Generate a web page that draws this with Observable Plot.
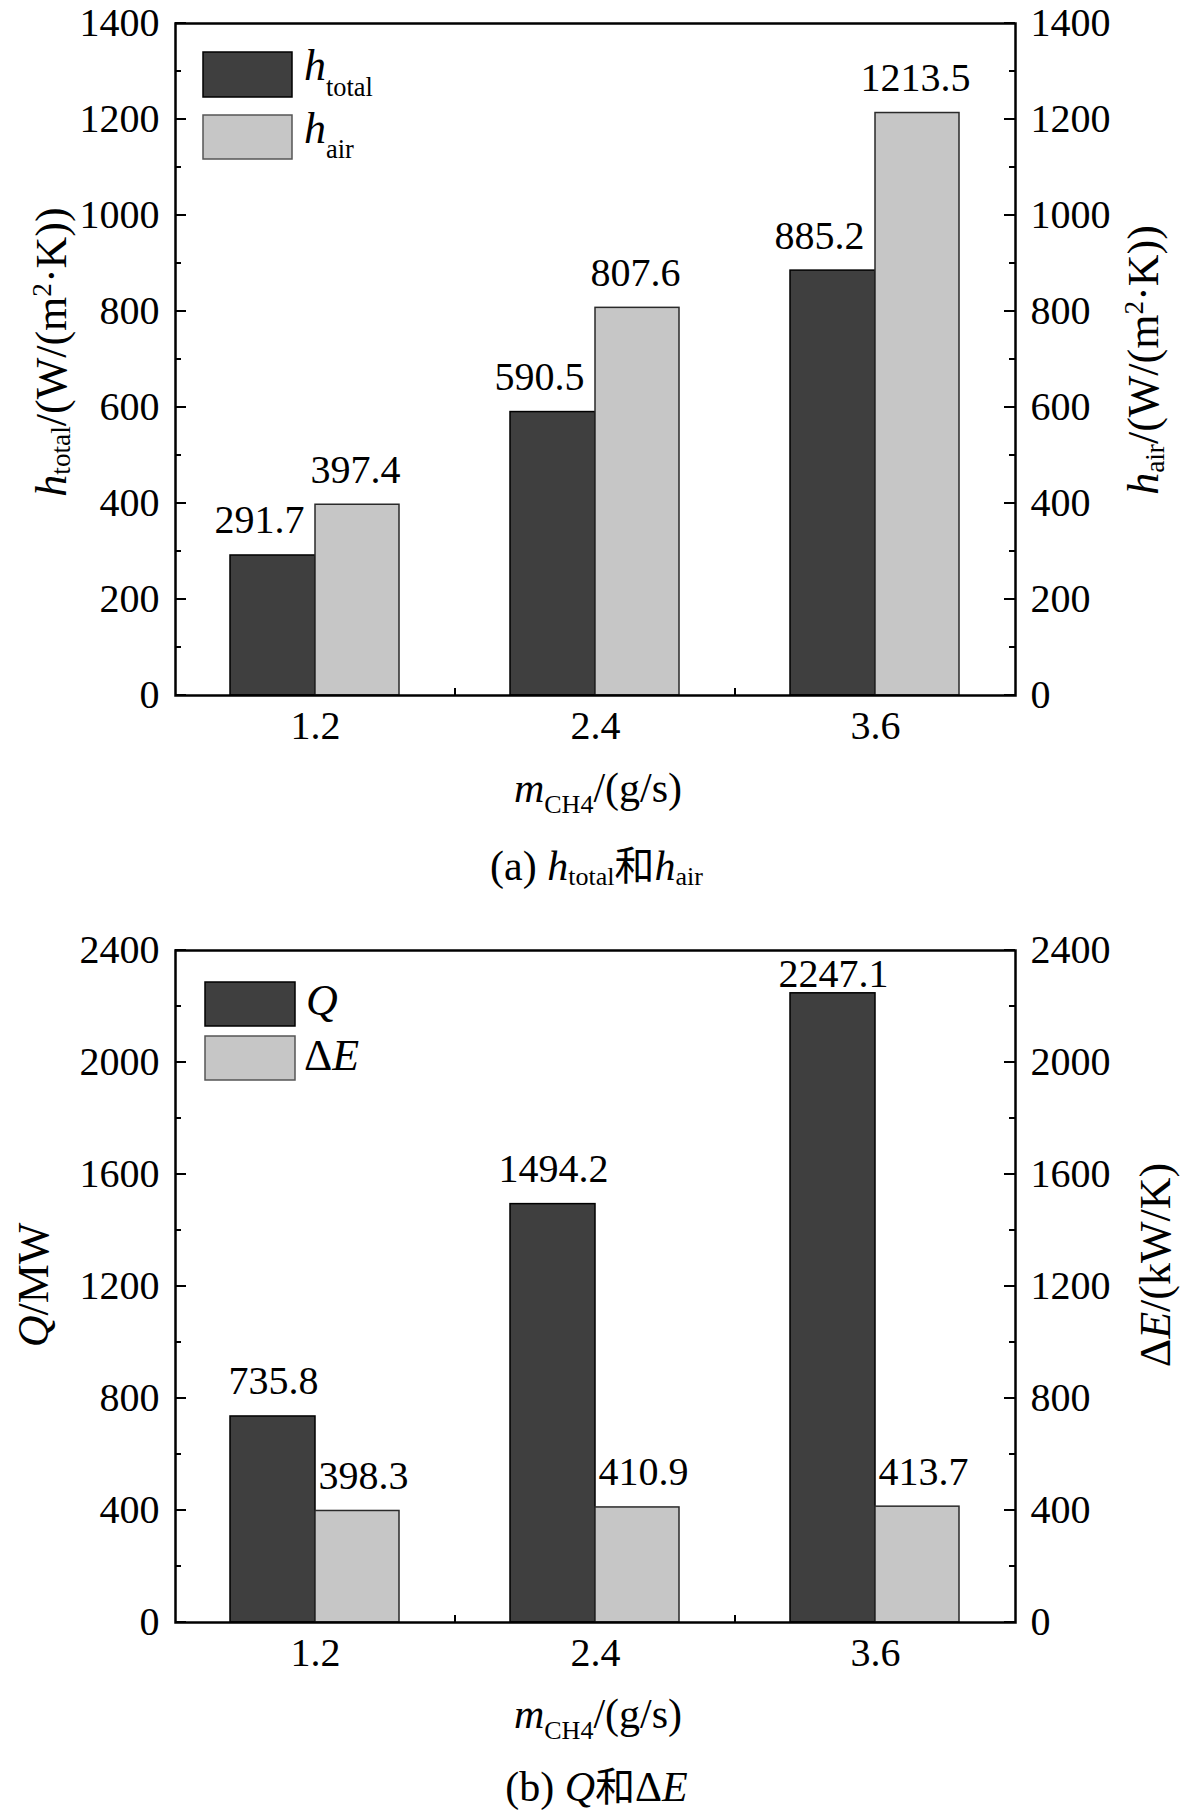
<!DOCTYPE html>
<html><head><meta charset="utf-8">
<script src="https://cdn.jsdelivr.net/npm/d3@7"></script>
<script src="https://cdn.jsdelivr.net/npm/@observablehq/plot@0.6"></script>
<style>
body{margin:0;background:#fff;}
#wrap{position:relative;width:1181px;height:1814px;font-family:'Liberation Serif','Times New Roman','Noto Sans CJK SC',serif;background:#fff;}
#wrap svg{position:absolute;left:0;}
#wrap svg text{font-family:'Liberation Serif','Times New Roman',serif;}
.cap{position:absolute;left:6px;width:1181px;text-align:center;font-size:42px;line-height:42px;color:#000;white-space:nowrap;}
.cap sub{font-size:0.62em;vertical-align:-0.18em;line-height:0;}
.cap .zh{font-family:'Noto Sans CJK SC',sans-serif;font-size:0.95em;}
</style></head><body><div id="wrap"></div>
<script>
// ---- data ----
const flows = ["1.2", "2.4", "3.6"];            // m_CH4 (g/s)
const hTotal = [291.7, 590.5, 885.2];            // W/(m2·K)
const hAir = [397.4, 807.6, 1213.5];             // W/(m2·K)
const Qvals = [735.8, 1494.2, 2247.1];           // MW
const dEvals = [398.3, 410.9, 413.7];            // kW/K
const ticksA = [0, 200, 400, 600, 800, 1000, 1200, 1400];
const minorA = [100, 300, 500, 700, 900, 1100, 1300];
const ticksB = [0, 400, 800, 1200, 1600, 2000, 2400];
const minorB = [200, 600, 1000, 1400, 1800, 2200];

const DARK = "#3f3f3f", LIGHT = "#c6c6c6";
const FONT = "'Liberation Serif','Times New Roman',serif";

function richText(parent, parts, {x, y, rotate = 0, size = 44, anchor = "middle", subShift = 6, supShift = -15, subSize = 0.62}) {
  const t = parent.append("text")
    .attr("transform", `translate(${x},${y})` + (rotate ? ` rotate(${rotate})` : ""))
    .attr("text-anchor", anchor).attr("font-size", size)
    .style("font-family", FONT).attr("fill", "black");
  let shift = 0;
  for (const p of parts) {
    const target = p.sub ? subShift : p.sup ? supShift : 0;
    const sp = t.append("tspan").text(p.t);
    if (target !== shift) { sp.attr("dy", target - shift); shift = target; }
    if (p.sub || p.sup) sp.attr("font-size", size * subSize);
    if (p.i) sp.attr("font-style", "italic");
  }
  return t;
}

function chart({a, b, ticks, minor, dxA, dxB, top}) {
  const rowsA = flows.map((m, i) => ({m, v: a[i]}));
  const rowsB = flows.map((m, i) => ({m, v: b[i]}));
  const ymax = ticks[ticks.length - 1];
  const lbl = {fontSize: 40, lineAnchor: "bottom"};
  const svg = Plot.plot({
    width: 1181, height: 830,
    marginTop: 23 + top, marginLeft: 175, marginRight: 166, marginBottom: 135 - top,
    style: {fontFamily: FONT, fontSize: "40px", background: "transparent", color: "black", overflow: "visible"},
    x: {type: "band", domain: flows, padding: 0, label: null},
    y: {domain: [0, ymax], label: null},
    marks: [
      Plot.barY(rowsA, {x: "m", y: "v", fill: DARK, stroke: "#000", strokeWidth: 1.5, insetLeft: 55, insetRight: 140}),
      Plot.barY(rowsB, {x: "m", y: "v", fill: LIGHT, stroke: "#2a2a2a", strokeWidth: 1.5, insetLeft: 140, insetRight: 56}),
      Plot.text(rowsA, {x: "m", y: "v", text: d => d.v.toFixed(1), dx: dxA, filter: d => d.v < ymax * 0.9, dy: -22, ...lbl}),
      Plot.text(rowsA, {x: "m", y: "v", text: d => d.v.toFixed(1), dx: dxA, filter: d => d.v >= ymax * 0.9, dy: -6, ...lbl}),
      Plot.text(rowsB, {x: "m", y: "v", text: d => d.v.toFixed(1), dx: dxB, filter: d => d.v < ymax * 0.9, dy: -22, ...lbl}),
      Plot.text(rowsB, {x: "m", y: "v", text: d => d.v.toFixed(1), dx: dxB, filter: d => d.v >= ymax * 0.9, dy: -6, ...lbl}),
      Plot.axisY(ticks, {anchor: "left", tickSize: 0, tickPadding: 16, fontSize: 40, label: null, tickFormat: d => String(d)}),
      Plot.axisY(ticks, {anchor: "right", tickSize: 0, tickPadding: 15, fontSize: 40, label: null, tickFormat: d => String(d)}),
      Plot.axisX(flows, {anchor: "bottom", tickSize: 0, tickPadding: 15, fontSize: 40, label: null}),
      Plot.frame({stroke: "black", strokeWidth: 2.5})
    ]
  });
  // inward tick marks, positioned with the plot's own scales
  const ys = svg.scale("y"), xs = svg.scale("x");
  const [x0, x1] = xs.range;
  const g = d3.select(svg).append("g").attr("stroke", "black").attr("stroke-width", 2);
  const tk = (vals, len) => vals.forEach(v => {
    const py = ys.apply(v);
    g.append("line").attr("x1", x0).attr("x2", x0 + len).attr("y1", py).attr("y2", py);
    g.append("line").attr("x1", x1).attr("x2", x1 - len).attr("y1", py).attr("y2", py);
  });
  tk(ticks, 11);
  tk(minor, 6);
  const yb = ys.apply(0);
  flows.slice(1).forEach(f => {
    const px = xs.apply(f);
    g.append("line").attr("x1", px).attr("x2", px).attr("y1", yb).attr("y2", yb - 7);
  });
  return svg;
}

const wrap = document.getElementById("wrap");

// ---- chart (a) ----
const svgA = chart({a: hTotal, b: hAir, ticks: ticksA, minor: minorA, dxA: -56, dxB: 40, top: 0});
svgA.style.top = "0px";
wrap.appendChild(svgA);
const sA = d3.select(svgA);
richText(sA, [{t: "h", i: true}, {t: "total", sub: true}, {t: "/(W/(m"}, {t: "2", sup: true}, {t: "·K))"}], {x: 66, y: 352, rotate: -90, subShift: 4});
richText(sA, [{t: "h", i: true}, {t: "air", sub: true}, {t: "/(W/(m"}, {t: "2", sup: true}, {t: "·K))"}], {x: 1158, y: 360, rotate: -90, subShift: 6});
richText(sA, [{t: "m", i: true}, {t: "CH4", sub: true}, {t: "/(g/s)"}], {x: 598, y: 802, size: 42, subShift: 11});
// legend (a)
const legA = sA.append("g");
legA.append("rect").attr("x", 203).attr("y", 52).attr("width", 89).attr("height", 45).attr("fill", DARK).attr("stroke", "#000").attr("stroke-width", 1.5);
legA.append("rect").attr("x", 203).attr("y", 115).attr("width", 89).attr("height", 44).attr("fill", LIGHT).attr("stroke", "#555").attr("stroke-width", 1.5);
richText(legA, [{t: "h", i: true}, {t: "total", sub: true}], {x: 304, y: 80, anchor: "start", size: 44, subShift: 16, subSize: 0.6});
richText(legA, [{t: "h", i: true}, {t: "air", sub: true}], {x: 304, y: 143, anchor: "start", size: 44, subShift: 15, subSize: 0.6});

const capA = document.createElement("div");
capA.className = "cap"; capA.style.top = "842px";
capA.innerHTML = '(a) <i>h</i><sub>total</sub><span class="zh">和</span><i>h</i><sub>air</sub>';
wrap.appendChild(capA);

// ---- chart (b) ----
const svgB = chart({a: Qvals, b: dEvals, ticks: ticksB, minor: minorB, dxA: -42, dxB: 48, top: 2});
svgB.style.top = "925px";
wrap.appendChild(svgB);
const sB = d3.select(svgB);
richText(sB, [{t: "Q", i: true}, {t: "/MW"}], {x: 48, y: 360, rotate: -90});
richText(sB, [{t: "Δ"}, {t: "E", i: true}, {t: "/(kW/K)"}], {x: 1170, y: 340, rotate: -90});
richText(sB, [{t: "m", i: true}, {t: "CH4", sub: true}, {t: "/(g/s)"}], {x: 598, y: 803, size: 42, subShift: 11});
const legB = sB.append("g");
legB.append("rect").attr("x", 205).attr("y", 57).attr("width", 90).attr("height", 44).attr("fill", DARK).attr("stroke", "#000").attr("stroke-width", 1.5);
legB.append("rect").attr("x", 205).attr("y", 111).attr("width", 90).attr("height", 44).attr("fill", LIGHT).attr("stroke", "#555").attr("stroke-width", 1.5);
richText(legB, [{t: "Q", i: true}], {x: 306, y: 90, anchor: "start", size: 44});
richText(legB, [{t: "Δ"}, {t: "E", i: true}], {x: 304, y: 145, anchor: "start", size: 44});

const capB = document.createElement("div");
capB.className = "cap"; capB.style.top = "1763px";
capB.innerHTML = '(b) <i>Q</i><span class="zh">和</span>Δ<i>E</i>';
wrap.appendChild(capB);
</script>
</body></html>
